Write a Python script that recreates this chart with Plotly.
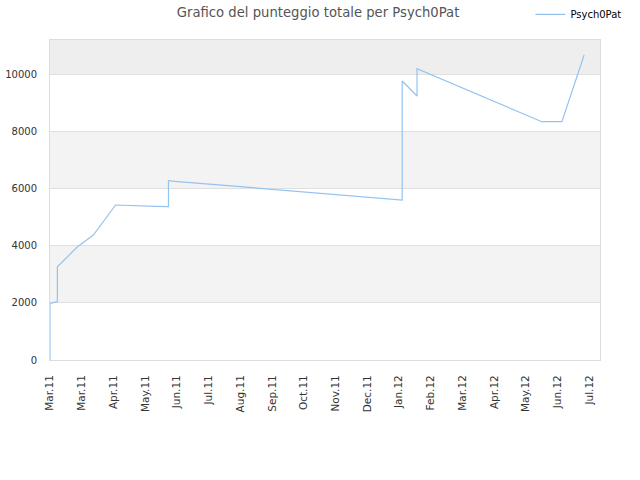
import plotly.graph_objects as go

# Punteggio totale nel tempo
dates = [
    "2011-03-01", "2011-03-01", "2011-03-08", "2011-03-08", "2011-03-27",
    "2011-04-11", "2011-05-02", "2011-05-16", "2011-06-09", "2011-06-21",
    "2011-06-21", "2011-06-27", "2012-01-28", "2012-01-28", "2012-02-11",
    "2012-02-11", "2012-06-08", "2012-06-27", "2012-07-18",
]
scores = [
    0, 1985, 2040, 3265, 3965,
    4375, 5425, 5400, 5380, 5365,
    6275, 6255, 5600, 9765, 9240,
    10195, 8340, 8340, 10675,
]

tick_dates = [
    "2011-03-01", "2011-03-31", "2011-04-30", "2011-05-30", "2011-06-29",
    "2011-07-29", "2011-08-28", "2011-09-27", "2011-10-27", "2011-11-26",
    "2011-12-26", "2012-01-25", "2012-02-24", "2012-03-25", "2012-04-24",
    "2012-05-24", "2012-06-23", "2012-07-23",
]
y_ticks = [0, 2000, 4000, 6000, 8000, 10000]
bands = [(2000, 4000, "#f3f3f3"), (6000, 8000, "#f3f3f3"), (10000, 11200, "#eeeeee")]

fig = go.Figure()
fig.add_trace(go.Scatter(
    x=dates, y=scores, mode="lines", name="Psych0Pat",
    line=dict(color="#95c3f0", width=1.2),
))

# bande alternate dello sfondo
for y0, y1, col in bands:
    fig.add_shape(type="rect", xref="paper", x0=0, x1=1, y0=y0, y1=y1,
                  fillcolor=col, line_width=0, layer="below")

fig.update_layout(
    width=640, height=480,
    margin=dict(l=50, r=40, t=40, b=120, autoexpand=False),
    paper_bgcolor="white", plot_bgcolor="white",
    font=dict(family="DejaVu Sans", size=10, color="#333"),
    title=dict(text="Grafico del punteggio totale per Psych0Pat",
               x=0.497, xref="container", y=0.975, yanchor="middle",
               font=dict(size=13.2, color="#555")),
    showlegend=True,
    legend=dict(x=1.048, xanchor="right", y=1.08, yanchor="middle",
                font=dict(size=10, color="#000"), itemwidth=30,
                bgcolor="rgba(0,0,0,0)"),
)
fig.update_xaxes(
    type="date", range=["2011-03-01", "2012-08-02"],
    tickvals=tick_dates, tickformat="%b.%y", tickangle=-90,
    showgrid=False, showline=True, linecolor="#dddddd", mirror=True,
    ticks="", zeroline=False, ticklabelstandoff=10,
    tickfont=dict(size=10.5),
)
fig.update_yaxes(
    range=[0, 11200], tickvals=y_ticks, tickformat="d",
    showgrid=True, gridcolor="#e0e0e0", gridwidth=1,
    showline=True, linecolor="#dddddd", mirror=True,
    ticks="", zeroline=False, ticklabelstandoff=10,
)

# togliamo il margine di 8px del body così la figura parte da (0, 0)
fig.write_html("out.html", config={"displayModeBar": False},
               post_script="document.body.style.margin='0';")
